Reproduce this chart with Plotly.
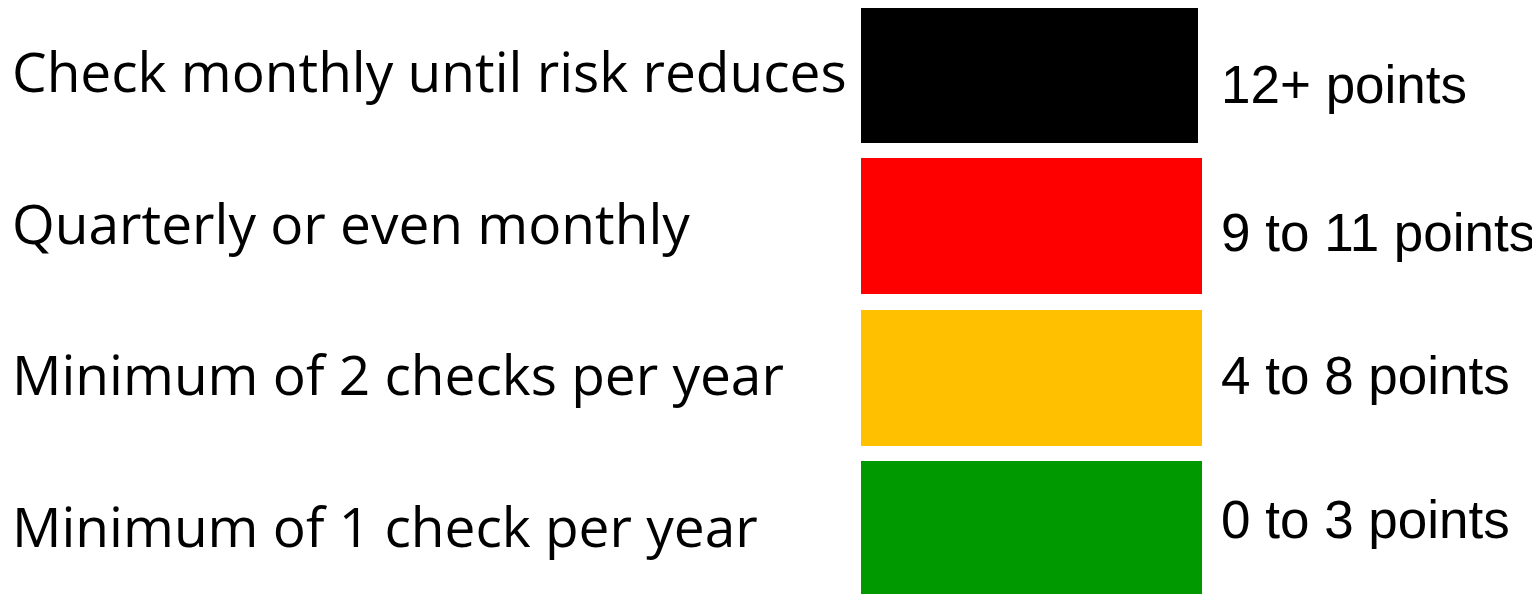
import plotly.graph_objects as go

# ---- data ----
advice = [
    "Check monthly until risk reduces",
    "Quarterly or even monthly",
    "Minimum of 2 checks per year",
    "Minimum of 1 check per year",
]
score_bands = ["12+ points", "9 to 11 points", "4 to 8 points", "0 to 3 points"]
band_colors = ["#000000", "#FF0000", "#FFC000", "#009900"]
rows = [0, 1, 2, 3]

# ---- layout constants (pixel space of the 1540x594 window) ----
W, H = 1540, 594
OFF = 8  # page body margin
box_left = 861
box_widths = [337, 341, 341, 341]
row0_px, row_step_px, box_h_px = 75, 151.33, 136
y_top = (OFF - row0_px) / row_step_px
y_bot = (OFF + H - row0_px) / row_step_px
left_yshift = [5, 4, 4, 3]
right_yshift = [-9, -6, 2, 9]

fig = go.Figure()
fig.add_trace(go.Bar(
    y=rows, x=box_widths, base=[box_left] * 4, orientation="h",
    width=box_h_px / row_step_px,
    marker=dict(color=band_colors, line=dict(width=0)),
    hoverinfo="skip", showlegend=False,
))

for i, r in enumerate(rows):
    fig.add_annotation(x=10, y=r, xref="x", yref="y", text=advice[i],
                       showarrow=False, xanchor="left", yanchor="middle",
                       yshift=left_yshift[i],
                       font=dict(family="Open Sans", size=55, color="#000000"))
    fig.add_annotation(x=1219, y=r, xref="x", yref="y", text=score_bands[i],
                       showarrow=False, xanchor="left", yanchor="middle",
                       yshift=right_yshift[i],
                       font=dict(family="Liberation Sans, Arial", size=53, color="#000000"))

fig.update_layout(
    width=W, height=H, margin=dict(l=0, r=0, t=0, b=0),
    paper_bgcolor="white", plot_bgcolor="white",
    xaxis=dict(range=[OFF, OFF + W], visible=False, fixedrange=True),
    yaxis=dict(range=[y_bot, y_top], visible=False, fixedrange=True),
    bargap=0,
)
fig.write_html("out.html", config={"displayModeBar": False})
